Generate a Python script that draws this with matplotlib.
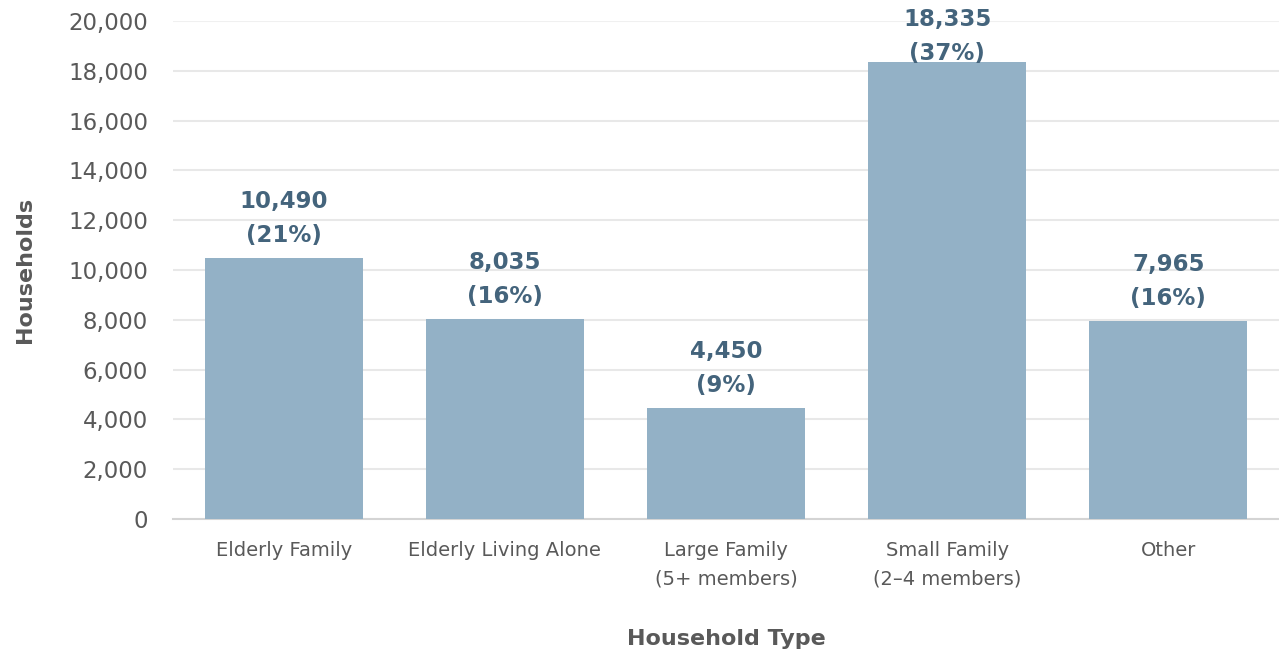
import matplotlib.pyplot as plt
import matplotlib.ticker as ticker

# household counts by type
categories = ['Elderly Family', 'Elderly Living Alone', 'Large Family\n(5+ members)',
              'Small Family\n(2\u20134 members)', 'Other']
households = [10490, 8035, 4450, 18335, 7965]
y_ticks = [0, 2000, 4000, 6000, 8000, 10000, 12000, 14000, 16000, 18000, 20000]

bar_color = '#93b1c6'
label_color = '#44647c'
text_color = '#595959'

plt.rcParams['font.family'] = ['DejaVu Sans']

fig = plt.figure(figsize=(12.79, 6.55), dpi=100)
ax = fig.add_axes([0.1353, 0.2076, 0.8647, 0.7603])

x = range(len(categories))
bars = ax.bar(x, households, width=0.715, color=bar_color, zorder=3)

total = sum(households)
# the tallest label is pushed down so it stays inside the frame
offsets = [8, 8, 8, -2, 8]
for i, v in enumerate(households):
    pct = round(v / total * 100)
    ax.annotate('{:,}\n({}%)'.format(v, pct), xy=(i, v), xytext=(0, offsets[i]),
                textcoords='offset points', ha='center', va='bottom',
                fontsize=16.5, fontweight='bold', color=label_color,
                linespacing=1.6, zorder=4)

ax.set_xlim(-0.5, len(categories) - 0.5)
ax.set_ylim(0, 20000)
ax.set_yticks(y_ticks)
ax.yaxis.set_major_formatter(ticker.FuncFormatter(lambda v, p: '{:,.0f}'.format(v)))
ax.set_xticks(list(x))
ax.set_xticklabels(categories, linespacing=1.6)

ax.grid(axis='y', color='#e8e8e8', linewidth=1.5, zorder=0)
ax.get_ygridlines()[-1].set_color('#f0f0f0')
for side in ['top', 'right', 'left']:
    ax.spines[side].set_visible(False)
ax.spines['bottom'].set_color('#d4d4d4')
ax.spines['bottom'].set_linewidth(1.5)

ax.tick_params(axis='y', length=0, pad=18, labelsize=16.5, labelcolor=text_color)
ax.tick_params(axis='x', length=0, pad=16, labelsize=14, labelcolor=text_color)

ax.set_xlabel('Household Type', fontsize=16, fontweight='bold', color=text_color, labelpad=29)
ax.set_ylabel('Households', fontsize=16, fontweight='bold', color=text_color, labelpad=24)

fig.savefig('out.png', dpi=100)
